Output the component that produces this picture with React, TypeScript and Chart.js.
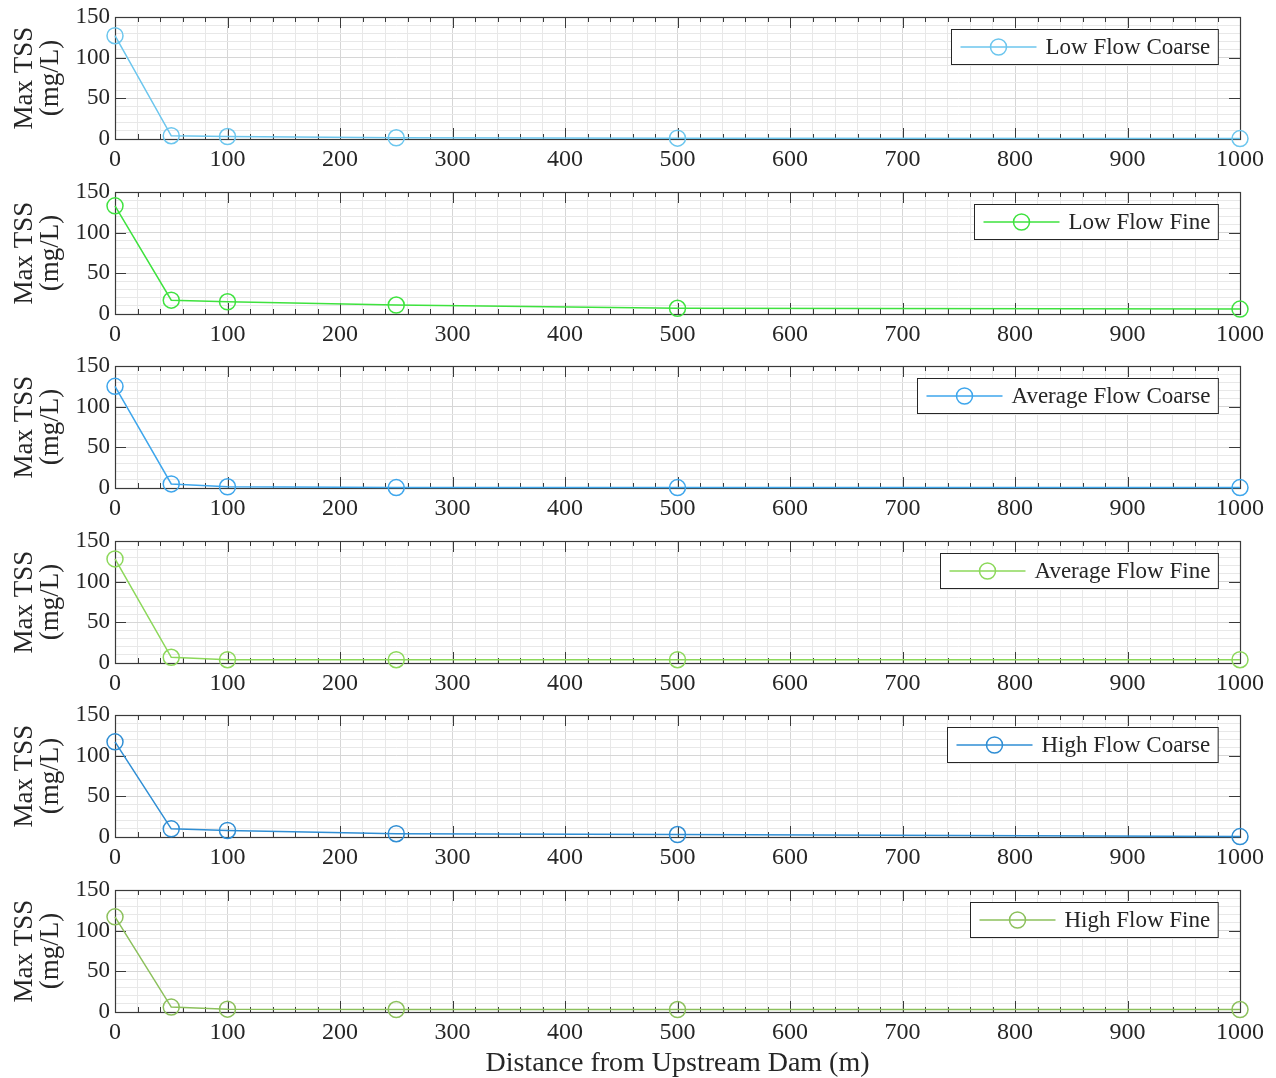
import React, { useEffect, useRef } from 'react';
import { Chart, registerables } from 'chart.js';

Chart.register(...registerables);

// ---- data ----
const distances = [0, 50, 100, 250, 500, 1000];
const lowFlowCoarse = [127, 4, 3, 1.5, 1, 0.5];
const lowFlowFine = [133, 17, 15, 11, 7, 6];
const averageFlowCoarse = [125, 5, 1.5, 0.5, 0.5, 0.5];
const averageFlowFine = [128, 7, 4, 4, 4, 4];
const highFlowCoarse = [117, 10, 8, 4, 3, 0.5];
const highFlowFine = [117, 6, 3.5, 3, 3, 3];

const seriesNames = [
  'Low Flow Coarse',
  'Low Flow Fine',
  'Average Flow Coarse',
  'Average Flow Fine',
  'High Flow Coarse',
  'High Flow Fine',
];
const seriesValues = [lowFlowCoarse, lowFlowFine, averageFlowCoarse, averageFlowFine, highFlowCoarse, highFlowFine];
const seriesColors = ['#6cc6ee', '#3ee23e', '#3ea6ec', '#8cd85a', '#2f8ed4', '#8cc05c'];

const xTickLabels = [0, 100, 200, 300, 400, 500, 600, 700, 800, 900, 1000];
const yTickLabels = [0, 50, 100, 150];
const xMinorStep = 20;
const yMinorStep = 10;

const yAxisTitle = ['Max TSS', '(mg/L)'];
const xAxisTitle = 'Distance from Upstream Dam (m)';

// ---- layout ----
const FONT = '"Liberation Serif", "Times New Roman", serif';
const TEXT = '#262626';
const PLOT_LEFT = 115;
const PLOT_RIGHT = 1240;
const FIRST_TOP = 17;
const SPACING = 174.6;
const PLOT_H = 122;
const TOP_PAD = 24;

function buildSteps(max: number, step: number) {
  const out: number[] = [];
  for (let v = 0; v <= max + 1e-9; v += step) out.push(v);
  return out;
}

const framePlugin = {
  id: 'matlabFrame',
  beforeDatasetsDraw(chart: any) {
    const { ctx, chartArea: a, scales } = chart;
    ctx.save();
    ctx.strokeStyle = '#3a3a3a';
    ctx.lineWidth = 1;
    const xs = scales.x;
    xs.ticks.forEach((t: any) => {
      const px = Math.round(xs.getPixelForValue(t.value)) + 0.5;
      const len = xTickLabels.includes(t.value) ? 11 : 5;
      ctx.beginPath();
      ctx.moveTo(px, a.bottom);
      ctx.lineTo(px, a.bottom - len);
      ctx.moveTo(px, a.top);
      ctx.lineTo(px, a.top + len);
      ctx.stroke();
    });
    const ys = scales.y;
    ys.ticks.forEach((t: any) => {
      if (!yTickLabels.includes(t.value)) return;
      const py = Math.round(ys.getPixelForValue(t.value)) + 0.5;
      ctx.beginPath();
      ctx.moveTo(a.left, py);
      ctx.lineTo(a.left + 11, py);
      ctx.moveTo(a.right, py);
      ctx.lineTo(a.right - 11, py);
      ctx.stroke();
    });
    ctx.lineWidth = 1.2;
    ctx.strokeRect(Math.round(a.left) + 0.5, Math.round(a.top) + 0.5, Math.round(a.width), Math.round(a.height));
    ctx.restore();
  },
  afterDatasetsDraw(chart: any) {
    const ds = chart.data.datasets[0];
    const { ctx, chartArea: a } = chart;
    ctx.save();
    ctx.font = `23px ${FONT}`;
    const tw = ctx.measureText(ds.label).width;
    const lineLen = 76, padL = 9, gap = 9, padR = 8, h = 35;
    const w = padL + lineLen + gap + tw + padR;
    const x1 = Math.round(a.right - 22 - w) + 0.5;
    const y1 = Math.round(a.top + 12) + 0.5;
    ctx.fillStyle = '#ffffff';
    ctx.fillRect(x1, y1, w, h);
    ctx.strokeStyle = '#262626';
    ctx.lineWidth = 1;
    ctx.strokeRect(x1, y1, w, h);
    const cy = y1 + h / 2;
    ctx.strokeStyle = ds.borderColor;
    ctx.lineWidth = 1.5;
    ctx.beginPath();
    ctx.moveTo(x1 + padL, cy);
    ctx.lineTo(x1 + padL + lineLen, cy);
    ctx.stroke();
    ctx.beginPath();
    ctx.arc(x1 + padL + lineLen / 2, cy, 8, 0, Math.PI * 2);
    ctx.stroke();
    ctx.fillStyle = TEXT;
    ctx.textBaseline = 'middle';
    ctx.textAlign = 'left';
    ctx.fillText(ds.label, x1 + padL + lineLen + gap, cy + 1);
    ctx.restore();
  },
};

function SubPlot({ index }: { index: number }) {
  const ref = useRef<HTMLCanvasElement>(null);
  const isLast = index === seriesNames.length - 1;
  const plotTop = Math.round(FIRST_TOP + SPACING * index);
  const canvasTop = plotTop - TOP_PAD;
  const height = isLast ? 1080 - canvasTop : 190;
  const xAxisH = height - TOP_PAD - PLOT_H;

  useEffect(() => {
    if (!ref.current) return;
    const xGrid = buildSteps(1000, xMinorStep);
    const yGrid = buildSteps(150, yMinorStep);
    const chart = new Chart(ref.current, {
      type: 'line',
      data: {
        datasets: [
          {
            label: seriesNames[index],
            data: distances.map((d, i) => ({ x: d, y: seriesValues[index][i] })),
            borderColor: seriesColors[index],
            backgroundColor: 'rgba(0,0,0,0)',
            borderWidth: 1.5,
            pointRadius: 8,
            pointBorderWidth: 1.5,
            pointBackgroundColor: 'rgba(0,0,0,0)',
            pointBorderColor: seriesColors[index],
            tension: 0,
            clip: false as any,
          },
        ],
      },
      options: {
        responsive: false,
        animation: false,
        devicePixelRatio: 1,
        layout: { padding: { top: TOP_PAD, left: 0, right: 1276 - PLOT_RIGHT, bottom: 0 } },
        plugins: { legend: { display: false }, tooltip: { enabled: false } },
        scales: {
          x: {
            type: 'linear',
            min: 0,
            max: 1000,
            afterBuildTicks: (s: any) => {
              s.ticks = xGrid.map((v) => ({ value: v }));
            },
            afterFit: (s: any) => {
              s.height = xAxisH;
            },
            grid: {
              drawTicks: false,
              color: (c: any) => (xTickLabels.includes(c.tick?.value) ? '#d6d6d6' : '#e8e8e8'),
              lineWidth: 1,
            },
            border: { display: false },
            ticks: {
              autoSkip: false,
              maxRotation: 0,
              padding: 6,
              color: TEXT,
              font: { family: FONT, size: 24 },
              callback: (v: any) => (xTickLabels.includes(Number(v)) ? String(v) : ''),
            },
            title: {
              display: isLast,
              text: xAxisTitle,
              color: TEXT,
              font: { family: FONT, size: 28, lineHeight: 1.15 },
              padding: { top: 0, bottom: 0 },
            },
          },
          y: {
            type: 'linear',
            min: 0,
            max: 150,
            afterBuildTicks: (s: any) => {
              s.ticks = yGrid.map((v) => ({ value: v }));
            },
            afterFit: (s: any) => {
              s.width = PLOT_LEFT;
            },
            grid: {
              drawTicks: false,
              color: (c: any) => (yTickLabels.includes(c.tick?.value) ? '#d6d6d6' : '#e8e8e8'),
              lineWidth: 1,
            },
            border: { display: false },
            ticks: {
              autoSkip: false,
              padding: 5,
              color: TEXT,
              font: { family: FONT, size: 23 },
              callback: (v: any) => (yTickLabels.includes(Number(v)) ? String(v) : ''),
            },
            title: {
              display: true,
              text: yAxisTitle,
              color: TEXT,
              font: { family: FONT, size: 27, lineHeight: 0.97 },
              padding: { top: 12, bottom: 0 },
            },
          },
        },
      },
      plugins: [framePlugin as any],
    });
    return () => chart.destroy();
  }, [index]);

  return (
    <div style={{ position: 'absolute', left: 0, top: canvasTop, width: 1276, height }}>
      <canvas ref={ref} width={1276} height={height} style={{ width: 1276, height }} />
    </div>
  );
}

export default function App() {
  return (
    <div style={{ position: 'absolute', left: 0, top: 0, width: 1276, height: 1078, background: '#ffffff', overflow: 'hidden' }}>
      {seriesNames.map((_, i) => (
        <SubPlot key={i} index={i} />
      ))}
    </div>
  );
}
